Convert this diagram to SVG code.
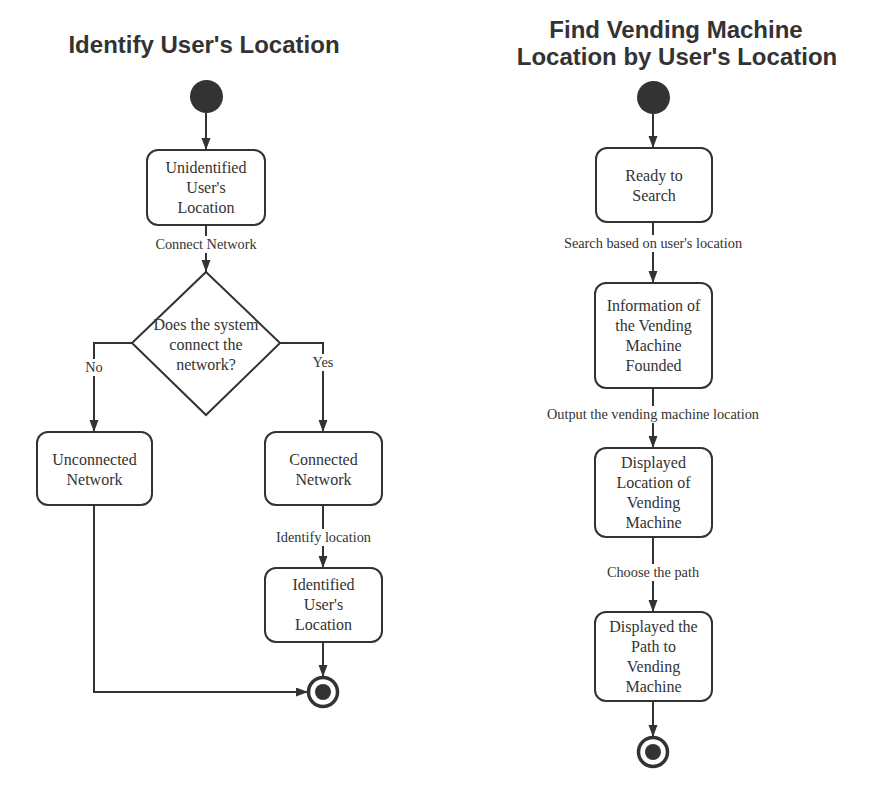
<svg xmlns="http://www.w3.org/2000/svg" width="896" height="790" viewBox="0 0 896 790">
  <defs>
    <marker id="arr" markerUnits="userSpaceOnUse" markerWidth="13" markerHeight="10" refX="12" refY="4.5" orient="auto">
      <path d="M0,0 L12,4.5 L0,9 z" fill="#333"/>
    </marker>
  </defs>
  <style>
    .title { font-family: "Liberation Sans", Arial, sans-serif; font-weight: bold; font-size: 24px; fill: #333; text-anchor: middle; }
    .node { fill: #fff; stroke: #333; stroke-width: 2; }
    .nt { font-family: "Liberation Serif", "Times New Roman", serif; font-size: 16px; fill: #333; text-anchor: middle; }
    .lt { font-family: "Liberation Serif", "Times New Roman", serif; font-size: 14.3px; fill: #333; text-anchor: middle; }
    .lbg { fill: #fff; }
    .edge { fill: none; stroke: #333; stroke-width: 2; }
    .start { fill: #333; }
    .endo { fill: #fff; stroke: #333; stroke-width: 3.5; }
    .endi { fill: #333; }
  </style>
  <rect width="896" height="790" fill="#fff"/>

  <text class="title" x="204" y="53">Identify User's Location</text>
  <text class="title" x="676" y="38">Find Vending Machine</text>
  <text class="title" x="677" y="65">Location by User's Location</text>

  <g id="connectors">
    <!-- left diagram -->
    <path class="edge" d="M206,113 L206,150" marker-end="url(#arr)"/>
    <path class="edge" d="M206,225 L206,272" marker-end="url(#arr)"/>
    <path class="edge" d="M132,343 L94,343 L94,432" marker-end="url(#arr)"/>
    <path class="edge" d="M280,343 L323,343 L323,432" marker-end="url(#arr)"/>
    <path class="edge" d="M323,505 L323,568" marker-end="url(#arr)"/>
    <path class="edge" d="M323,642 L323,677" marker-end="url(#arr)"/>
    <path class="edge" d="M94,505 L94,692 L308,692" marker-end="url(#arr)"/>
    <!-- right diagram -->
    <path class="edge" d="M653,114 L653,148" marker-end="url(#arr)"/>
    <path class="edge" d="M653,222 L653,283" marker-end="url(#arr)"/>
    <path class="edge" d="M653,388 L653,448" marker-end="url(#arr)"/>
    <path class="edge" d="M653,537 L653,612" marker-end="url(#arr)"/>
    <path class="edge" d="M653,701 L653,737" marker-end="url(#arr)"/>

    <!-- labels -->
    <g id="lbl-connect">
      <rect class="lbg" x="153" y="236" width="106" height="17"/>
      <text class="lt" x="206" y="248.5">Connect Network</text>
    </g>
    <g id="lbl-no">
      <rect class="lbg" x="83" y="359" width="22" height="17"/>
      <text class="lt" x="94" y="372">No</text>
    </g>
    <g id="lbl-yes">
      <rect class="lbg" x="310" y="354" width="26" height="17"/>
      <text class="lt" x="323" y="367">Yes</text>
    </g>
    <g id="lbl-identify">
      <rect class="lbg" x="274" y="529" width="99" height="17"/>
      <text class="lt" x="323.5" y="542">Identify location</text>
    </g>
    <g id="lbl-search">
      <rect class="lbg" x="561" y="235" width="184" height="17"/>
      <text class="lt" x="653" y="247.5">Search based on user's location</text>
    </g>
    <g id="lbl-output">
      <rect class="lbg" x="544" y="406" width="218" height="17"/>
      <text class="lt" x="653" y="418.5">Output the vending machine location</text>
    </g>
    <g id="lbl-choose">
      <rect class="lbg" x="605" y="564" width="96" height="17"/>
      <text class="lt" x="653" y="576.5">Choose the path</text>
    </g>
  </g>

  <!-- left diagram nodes -->
  <g id="start1"><circle class="start" cx="206.5" cy="96.5" r="16.5"/></g>
  <g id="unidentified">
    <rect class="node" x="147" y="150" width="118" height="75" rx="11"/>
    <text class="nt" x="206" y="173">Unidentified</text>
    <text class="nt" x="206" y="193">User's</text>
    <text class="nt" x="206" y="213">Location</text>
  </g>
  <g id="decision">
    <polygon class="node" points="206,272 280,343 206,415 132,343"/>
    <text class="nt" x="206" y="330">Does the system</text>
    <text class="nt" x="206" y="350">connect the</text>
    <text class="nt" x="206" y="370">network?</text>
  </g>
  <g id="unconnected">
    <rect class="node" x="37" y="432" width="115" height="73" rx="11"/>
    <text class="nt" x="94.5" y="465">Unconnected</text>
    <text class="nt" x="94.5" y="485">Network</text>
  </g>
  <g id="connected">
    <rect class="node" x="265" y="432" width="117" height="73" rx="11"/>
    <text class="nt" x="323.5" y="465">Connected</text>
    <text class="nt" x="323.5" y="485">Network</text>
  </g>
  <g id="identified">
    <rect class="node" x="265" y="568" width="117" height="74" rx="11"/>
    <text class="nt" x="323.5" y="590">Identified</text>
    <text class="nt" x="323.5" y="610">User's</text>
    <text class="nt" x="323.5" y="630">Location</text>
  </g>
  <g id="end1">
    <circle class="endo" cx="323" cy="692" r="14.5"/>
    <circle class="endi" cx="323" cy="692" r="8"/>
  </g>

  <!-- right diagram nodes -->
  <g id="start2"><circle class="start" cx="653.5" cy="97.5" r="16.5"/></g>
  <g id="ready">
    <rect class="node" x="596" y="148" width="116" height="74" rx="11"/>
    <text class="nt" x="654" y="181">Ready to</text>
    <text class="nt" x="654" y="201">Search</text>
  </g>
  <g id="info">
    <rect class="node" x="595" y="283" width="117" height="105" rx="11"/>
    <text class="nt" x="653.5" y="311">Information of</text>
    <text class="nt" x="653.5" y="331">the Vending</text>
    <text class="nt" x="653.5" y="351">Machine</text>
    <text class="nt" x="653.5" y="371">Founded</text>
  </g>
  <g id="displayed-location">
    <rect class="node" x="595" y="448" width="117" height="89" rx="11"/>
    <text class="nt" x="653.5" y="468">Displayed</text>
    <text class="nt" x="653.5" y="488">Location of</text>
    <text class="nt" x="653.5" y="508">Vending</text>
    <text class="nt" x="653.5" y="528">Machine</text>
  </g>
  <g id="displayed-path">
    <rect class="node" x="595" y="612" width="117" height="89" rx="11"/>
    <text class="nt" x="653.5" y="632">Displayed the</text>
    <text class="nt" x="653.5" y="652">Path to</text>
    <text class="nt" x="653.5" y="672">Vending</text>
    <text class="nt" x="653.5" y="692">Machine</text>
  </g>
  <g id="end2">
    <circle class="endo" cx="653" cy="752" r="14.5"/>
    <circle class="endi" cx="653" cy="752" r="8"/>
  </g>
</svg>
